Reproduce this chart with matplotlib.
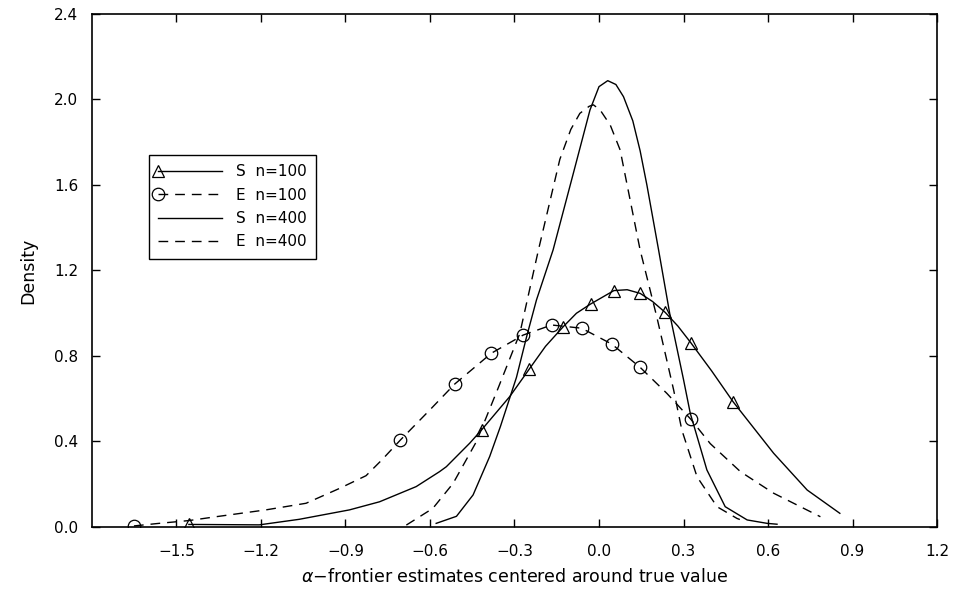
import matplotlib
matplotlib.use("Agg")
import matplotlib.pyplot as plt
from matplotlib.legend_handler import HandlerLine2D
from matplotlib.ticker import FuncFormatter

# density curves of the alpha-frontier estimates
s100_x = [-1.456, -1.206, -1.064, -0.886, -0.779, -0.649, -0.566, -0.542, -0.459, -0.417,
          -0.317, -0.248, -0.19, -0.127, -0.08, -0.03, 0.053, 0.10, 0.146, 0.19,
          0.235, 0.28, 0.326, 0.40, 0.476, 0.62, 0.739, 0.855]
s100_y = [0.012, 0.010, 0.036, 0.080, 0.118, 0.189, 0.259, 0.282, 0.392, 0.454,
          0.610, 0.738, 0.845, 0.937, 1.000, 1.043, 1.106, 1.110, 1.093, 1.055,
          1.004, 0.940, 0.862, 0.730, 0.586, 0.345, 0.173, 0.064]
s100_marks = [0, 9, 11, 13, 15, 16, 18, 20, 22, 24]

e100_x = [-1.651, -1.562, -1.456, -1.36, -1.183, -1.04, -0.922, -0.827, -0.77, -0.705,
          -0.601, -0.512, -0.382, -0.269, -0.168, -0.062, 0.045, 0.146, 0.241, 0.326,
          0.395, 0.502, 0.62, 0.786]
e100_y = [0.005, 0.017, 0.030, 0.048, 0.080, 0.111, 0.180, 0.240, 0.315, 0.407,
          0.547, 0.669, 0.813, 0.898, 0.945, 0.930, 0.856, 0.747, 0.625, 0.504,
          0.390, 0.259, 0.158, 0.048]
e100_marks = [0, 9, 11, 12, 13, 14, 15, 16, 17, 19]

s400_x = [-0.578, -0.506, -0.447, -0.388, -0.35, -0.293, -0.257, -0.222, -0.163, -0.091,
          -0.032, 0.0, 0.031, 0.06, 0.087, 0.12, 0.146, 0.17, 0.211, 0.253,
          0.30, 0.324, 0.383, 0.448, 0.526, 0.597, 0.632]
s400_y = [0.017, 0.050, 0.150, 0.330, 0.470, 0.700, 0.890, 1.062, 1.296, 1.655,
          1.951, 2.060, 2.088, 2.070, 2.013, 1.900, 1.760, 1.600, 1.300, 0.984,
          0.690, 0.532, 0.267, 0.095, 0.033, 0.017, 0.013]

e400_x = [-0.684, -0.59, -0.518, -0.435, -0.358, -0.281, -0.215, -0.139, -0.10, -0.068,
          -0.035, -0.02, 0.004, 0.04, 0.075, 0.146, 0.205, 0.265, 0.294, 0.348,
          0.419, 0.49, 0.50]
e400_y = [0.009, 0.087, 0.204, 0.400, 0.650, 0.906, 1.296, 1.720, 1.860, 1.935,
          1.968, 1.975, 1.951, 1.880, 1.764, 1.296, 0.984, 0.641, 0.454, 0.235,
          0.095, 0.040, 0.035]

labels = ["S  n=100", "E  n=100", "S  n=400", "E  n=400"]
xticks = [-1.5, -1.2, -0.9, -0.6, -0.3, 0.0, 0.3, 0.6, 0.9, 1.2]
yticks = [0.0, 0.4, 0.8, 1.2, 1.6, 2.0, 2.4]


class HandlerMarkerLeft(HandlerLine2D):
    # sample line with its single marker sitting on the left end
    def create_artists(self, legend, orig_handle, xdescent, ydescent,
                       width, height, fontsize, trans):
        artists = super().create_artists(legend, orig_handle, xdescent, ydescent,
                                         width, height, fontsize, trans)
        for a in artists:
            a.set_markevery([0])
        return artists


plt.rcParams["font.family"] = "DejaVu Sans"
plt.rcParams["mathtext.fontset"] = "dejavusans"

fig = plt.figure(figsize=(9.54, 5.92), dpi=100)
ax = fig.add_axes([0.0964, 0.1098, 0.8858, 0.8666])

dash = (0, (7, 5))
h1, = ax.plot(s100_x, s100_y, color="black", lw=1.0, marker="^", ms=9,
              mfc="none", mec="black", mew=0.9, markevery=s100_marks)
h2, = ax.plot(e100_x, e100_y, color="black", lw=1.0, ls=dash, marker="o", ms=9,
              mfc="none", mec="black", mew=0.9, markevery=e100_marks)
h3, = ax.plot(s400_x, s400_y, color="black", lw=1.0)
h4, = ax.plot(e400_x, e400_y, color="black", lw=1.0, ls=dash)

ax.set_xlim(-1.8, 1.2)
ax.set_ylim(0, 2.4)
ax.set_xticks(xticks)
ax.set_yticks(yticks)
fmt = FuncFormatter(lambda v, p: f"{v:.1f}".replace("-", "\u2212"))
ax.xaxis.set_major_formatter(fmt)
ax.yaxis.set_major_formatter(fmt)
ax.tick_params(direction="in", top=True, right=True, length=6, width=1.0,
               labelsize=11, colors="black")
ax.tick_params(axis="x", pad=12)
ax.tick_params(axis="y", pad=10)
for sp in ax.spines.values():
    sp.set_linewidth(1.2)

ax.set_xlabel("$\\alpha$\u2212frontier estimates centered around true value",
              fontsize=12.5, labelpad=7)
ax.set_ylabel("Density", fontsize=12.5, labelpad=12)

handler = HandlerMarkerLeft(numpoints=1)
leg = ax.legend([h1, h2, h3, h4], labels, loc="upper left",
                bbox_to_anchor=(0.0675, 0.725), borderaxespad=0,
                fontsize=11, handlelength=4.2, handletextpad=0.9,
                labelspacing=0.55, borderpad=0.6, fancybox=False,
                framealpha=1, edgecolor="black",
                handler_map={h1: handler, h2: handler})
leg.get_frame().set_linewidth(1.0)

fig.savefig("out.png", dpi=100)
